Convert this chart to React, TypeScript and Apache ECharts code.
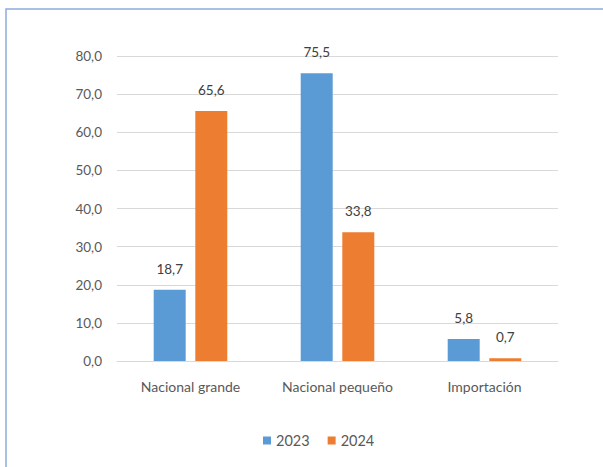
import React, { useEffect, useRef } from "react";
import * as echarts from "echarts";

const categories = ["Nacional grande", "Nacional pequeño", "Importación"];
const series2023 = [18.7, 75.5, 5.8];
const series2024 = [65.6, 33.8, 0.7];
const seriesNames = ["2023", "2024"];

const fmt = (v: number) => v.toFixed(1).replace(".", ",");
const FONT = "Lato, 'Noto Sans', sans-serif";

export default function App() {
  const ref = useRef<HTMLDivElement>(null);
  useEffect(() => {
    if (!ref.current) return;
    const chart = echarts.init(ref.current, undefined, { renderer: "svg" });
    chart.setOption({
      animation: false,
      backgroundColor: "#ffffff",
      textStyle: { fontFamily: FONT },
      graphic: [
        {
          type: "rect",
          shape: { x: 6, y: 9, width: 640, height: 520 },
          style: { fill: "none", stroke: "#8eaadb", lineWidth: 1.5 },
          silent: true,
        },
      ],
      grid: { left: 117, right: 45, top: 56, bottom: 106 },
      legend: {
        data: seriesNames,
        left: 258,
        top: 428,
        itemWidth: 8,
        itemHeight: 8,
        itemGap: 18,
        icon: "rect",
        textStyle: { color: "#595959", fontSize: 14.5, fontFamily: FONT },
      },
      xAxis: {
        type: "category",
        data: categories,
        axisLine: { show: true, lineStyle: { color: "#d9d9d9" } },
        axisTick: { show: false },
        axisLabel: {
          color: "#595959",
          fontSize: 14,
          margin: 18,
          interval: 0,
          hideOverlap: false,
          fontFamily: FONT,
        },
      },
      yAxis: {
        type: "value",
        min: 0,
        max: 80,
        interval: 10,
        axisLine: { show: false },
        axisTick: { show: false },
        axisLabel: {
          color: "#595959",
          fontSize: 13.5,
          margin: 15,
          fontFamily: FONT,
          formatter: (v: number) => fmt(v),
        },
        splitLine: { lineStyle: { color: "#d9d9d9" } },
      },
      series: [
        {
          name: seriesNames[0],
          type: "bar",
          data: series2023,
          barWidth: 32,
          barGap: "30%",
          itemStyle: { color: "#5b9bd5" },
          label: {
            show: true,
            position: "top",
            distance: 14,
            color: "#404040",
            fontSize: 13.5,
            fontFamily: FONT,
            formatter: (p: any) => fmt(p.value),
          },
        },
        {
          name: seriesNames[1],
          type: "bar",
          data: series2024,
          barWidth: 32,
          itemStyle: { color: "#ed7d31" },
          label: {
            show: true,
            position: "top",
            distance: 14,
            color: "#404040",
            fontSize: 13.5,
            fontFamily: FONT,
            formatter: (p: any) => fmt(p.value),
          },
        },
      ],
    });
    return () => chart.dispose();
  }, []);
  return (
    <div
      ref={ref}
      style={{ position: "fixed", left: 0, top: 0, width: 603, height: 467 }}
    />
  );
}
